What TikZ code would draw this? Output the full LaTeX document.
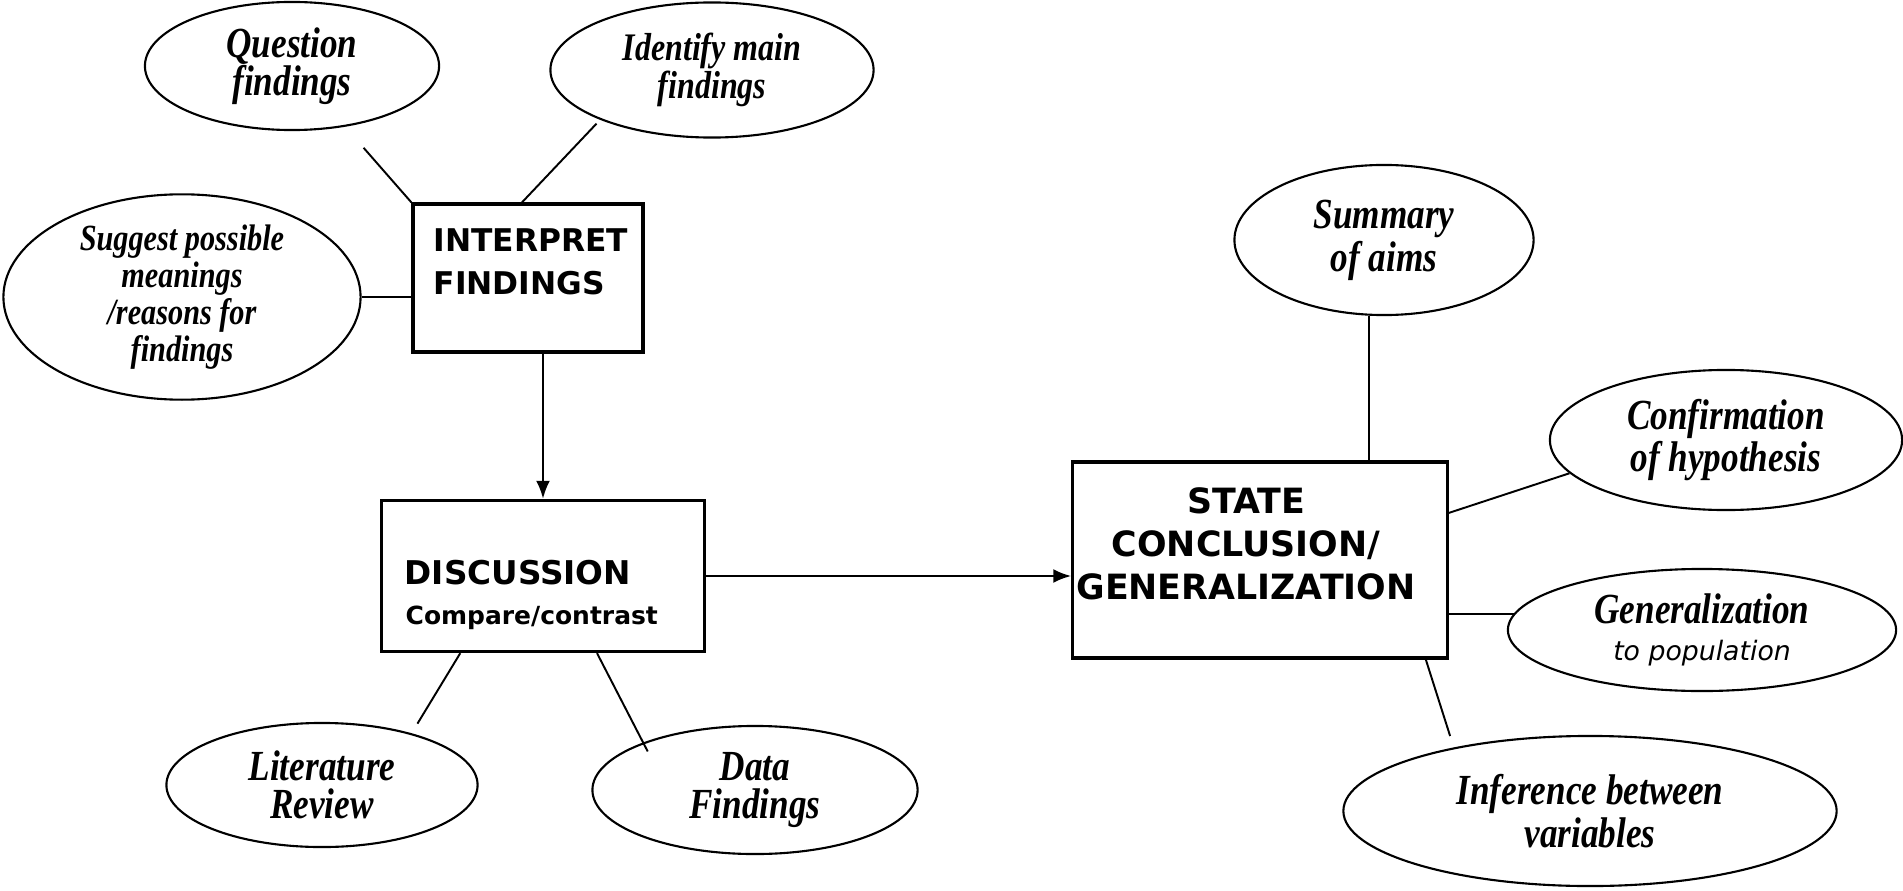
\documentclass[tikz,border=0pt]{standalone}
\usepackage{fontspec}
\setmainfont{Liberation Serif}[FakeStretch=0.82]
\newfontfamily\capsfont{DejaVu Sans}
\usetikzlibrary{shapes.geometric,arrows.meta,calc}

\begin{document}
\begin{tikzpicture}[x=0.01cm,y=-0.01cm,
  oval/.style={ellipse,draw,line width=0.6pt,inner sep=0pt,align=center,
    font=\bfseries\itshape\fontsize{12.2}{10.7}\selectfont},
  stepbox/.style={draw,line width=0.9pt,inner sep=0pt},
  boxtext/.style={inner sep=0pt,font=\capsfont\bfseries\fontsize{9.2}{12.2}\selectfont},
  subtext/.style={inner sep=0pt,font=\capsfont\bfseries\fontsize{7.1}{9}\selectfont},
  link/.style={line width=0.55pt},
  flow/.style={line width=0.75pt,-{Latex[length=1.8mm,width=1.4mm]}}]

\useasboundingbox (0,0) rectangle (1903,891);

% boxes
\node[stepbox,minimum width=2.30cm,minimum height=1.48cm] (int) at (528,278) {};
\node[boxtext,anchor=north west,align=left,
  font=\capsfont\bfseries\fontsize{8.9}{12.2}\selectfont] (intlbl) at (433,228) {INTERPRET\\FINDINGS};

\node[stepbox,minimum width=3.22cm,minimum height=1.51cm] (disc) at (543,576) {};
\node[boxtext,anchor=base west,font=\capsfont\bfseries\fontsize{9.3}{12}\selectfont] (disclbl) at (404,584) {DISCUSSION};
\node[subtext,anchor=base west] (discsub) at (405,624) {Compare/contrast};

\node[stepbox,minimum width=3.74cm,minimum height=1.96cm] (state) at (1260,560) {};
\node[boxtext,anchor=north,align=center,
  font=\capsfont\bfseries\fontsize{9.9}{12.2}\selectfont] (statelbl) at (1246,487) {STATE\\CONCLUSION/\\GENERALIZATION};

% ovals
\node[oval,minimum width=2.94cm,minimum height=1.28cm] (qf) at (292,66) {Question\\findings};
\node[oval,minimum width=3.23cm,minimum height=1.35cm,
  font=\bfseries\itshape\fontsize{11.1}{10.7}\selectfont] (imf) at (712,70) {Identify main\\findings};
\node[oval,minimum width=3.57cm,minimum height=2.05cm,
  font=\bfseries\itshape\fontsize{10.5}{8.9}\selectfont] (sp) at (182,297)
  {Suggest possible\\meanings\\/reasons for\\findings};
\node[oval,minimum width=3.11cm,minimum height=1.24cm] (lit) at (322,785) {Literature\\Review};
\node[oval,minimum width=3.25cm,minimum height=1.28cm] (data) at (755,790) {Data\\Findings};
\node[oval,minimum width=2.99cm,minimum height=1.50cm] (sum) at (1384,240) {Summary\\of aims};
\node[oval,minimum width=3.52cm,minimum height=1.40cm] (conf) at (1726,440) {Confirmation\\of hypothesis};
\node[oval,minimum width=3.88cm,minimum height=1.22cm] (gen) at (1702,630)
  {Generalization\\{\capsfont\mdseries\itshape\fontsize{7.6}{10}\selectfont to population}};
\node[oval,minimum width=4.93cm,minimum height=1.50cm] (inf) at (1590,811) {Inference between\\variables};

% connectors
\draw[link] (int.north west) -- ($(int.north west)!0.4!(qf.center)$);
\draw[link,shorten >=1.5pt] ([xshift=-0.06cm]int.north) -- (imf.204);
\draw[link] (sp.east) -- (sp.east -| int.west);
\draw[flow] (disc.north |- int.south) -- (disc.north);
\draw[flow] (disc.east) -- (disc.east -| state.west);
\draw[link] (disc.223) -- ($(disc.223)!0.88!(lit.30)$);
\draw[link] (disc.-55) -- ($(disc.-55)!1.1!(data.157)$);
\draw[link] ([xshift=-0.15cm]sum.south) -- ([xshift=-0.15cm]sum.south |- state.north);
\draw[link] (state.14) -- (conf.192);
\draw[link] (gen.175 -| state.east) -- (gen.175);
\draw[link,shorten >=0.12cm] (state.-31) -- (inf.155);

\end{tikzpicture}
\end{document}
